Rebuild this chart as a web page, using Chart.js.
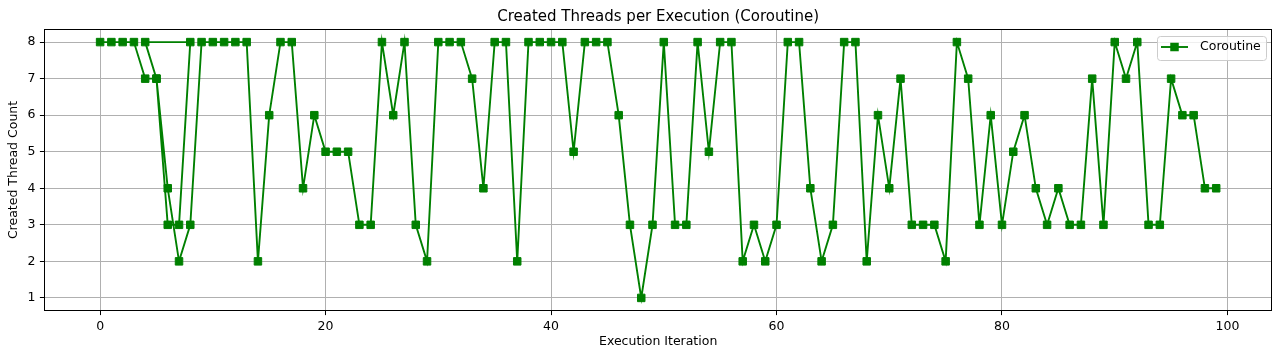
<!doctype html>
<html lang="en">
<head>
    <meta charset="UTF-8">
    <title>Created Threads per Execution (Coroutine)</title>
    <script src="https://cdn.jsdelivr.net/npm/chart.js"></script>
    <style>
        body { margin: 0; background: #fff; }
        #wrap { width: 1280px; height: 359px; }
    </style>
</head>
<body>
<div id="wrap"><canvas id="threadChart"></canvas></div>

<script>
    // x values as they appear in the log (iterations 4-8 show up twice)
    var iterations = [0, 1, 2, 3, 4, 5, 6, 7, 8,
        4, 5, 6, 7, 8, 9, 10, 11, 12, 13, 14, 15, 16, 17, 18, 19,
        20, 21, 22, 23, 24, 25, 26, 27, 28, 29, 30, 31, 32, 33, 34, 35, 36, 37, 38, 39,
        40, 41, 42, 43, 44, 45, 46, 47, 48, 49, 50, 51, 52, 53, 54, 55, 56, 57, 58, 59,
        60, 61, 62, 63, 64, 65, 66, 67, 68, 69, 70, 71, 72, 73, 74, 75, 76, 77, 78, 79,
        80, 81, 82, 83, 84, 85, 86, 87, 88, 89, 90, 91, 92, 93, 94, 95, 96, 97, 98, 99];

    var threadCounts = [8, 8, 8, 8, 7, 7, 3, 3, 8,
        8, 7, 4, 2, 3, 8, 8, 8, 8, 8, 2, 6, 8, 8, 4, 6,
        5, 5, 5, 3, 3, 8, 6, 8, 3, 2, 8, 8, 8, 7, 4, 8, 8, 2, 8, 8,
        8, 8, 5, 8, 8, 8, 6, 3, 1, 3, 8, 3, 3, 8, 5, 8, 8, 2, 3, 2,
        3, 8, 8, 4, 2, 3, 8, 8, 2, 6, 4, 7, 3, 3, 3, 2, 8, 7, 3, 6,
        3, 5, 6, 4, 3, 4, 3, 3, 7, 3, 8, 7, 8, 3, 3, 7, 6, 6, 4, 4];

    var xTicks = [0, 20, 40, 60, 80, 100];
    var yTicks = [1, 2, 3, 4, 5, 6, 7, 8];
    var seriesName = 'Coroutine';

    var points = iterations.map(function (x, i) {
        return {x: x, y: threadCounts[i]};
    });

    var FONT = 'DejaVu Sans';
    Chart.defaults.color = '#000';
    Chart.defaults.font.family = FONT;

    // matplotlib-like frame + legend inside the axes
    var framePlugin = {
        id: 'frame',
        afterDraw: function (chart) {
            var c = chart.ctx, a = chart.chartArea;
            c.save();
            c.strokeStyle = '#000';
            c.lineWidth = 1;
            c.strokeRect(Math.round(a.left) + 0.5, Math.round(a.top) + 0.5,
                Math.round(a.right - a.left) - 1, Math.round(a.bottom - a.top));

            // legend box
            var lx = 1157, ly = 36, lw = 109, lh = 24;
            c.beginPath();
            c.roundRect(lx + 0.5, ly + 0.5, lw, lh, 3);
            c.fillStyle = 'rgba(255,255,255,0.8)';
            c.fill();
            c.strokeStyle = '#cccccc';
            c.stroke();

            var my = ly + 11;
            c.strokeStyle = 'green';
            c.lineWidth = 1.9;
            c.beginPath();
            c.moveTo(lx + 4, my);
            c.lineTo(lx + 31, my);
            c.stroke();
            c.fillStyle = 'green';
            c.fillRect(lx + 17.5 - 4.25, my - 4.25, 8.5, 8.5);

            c.fillStyle = '#000';
            c.font = '12.5px "' + FONT + '"';
            c.textBaseline = 'middle';
            c.textAlign = 'left';
            c.fillText(seriesName, lx + 43, my);
            c.restore();
        }
    };

    var ctx = document.getElementById('threadChart');

    var myChart = new Chart(ctx, {
        type: 'scatter',
        data: {
            datasets: [{
                label: seriesName,
                data: points,
                showLine: true,
                borderColor: 'green',
                backgroundColor: 'green',
                borderWidth: 1.9,
                pointStyle: 'rect',
                pointRadius: 5.3,
                pointBorderWidth: 1,
                pointHoverRadius: 5.3
            }]
        },
        options: {
            responsive: true,
            maintainAspectRatio: false,
            animation: false,
            layout: {
                padding: {left: 0, top: 0, right: 8, bottom: 0}
            },
            plugins: {
                legend: {display: false},
                tooltip: {enabled: false},
                title: {
                    display: true,
                    fullSize: false,
                    text: 'Created Threads per Execution (Coroutine)',
                    color: '#000',
                    font: {size: 15, weight: 'normal'},
                    padding: {top: 8.5, bottom: 2.8}
                }
            },
            scales: {
                x: {
                    type: 'linear',
                    min: -4.95,
                    max: 103.95,
                    afterBuildTicks: function (scale) {
                        scale.ticks = xTicks.map(function (v) { return {value: v}; });
                    },
                    afterFit: function (scale) {
                        scale.height = 48.3;
                    },
                    grid: {
                        color: '#b0b0b0',
                        lineWidth: 1,
                        tickColor: '#000',
                        tickLength: 4.4,
                        tickWidth: 1
                    },
                    border: {display: false},
                    ticks: {
                        font: {size: 12.5},
                        padding: 4.4,
                        maxRotation: 0
                    },
                    title: {
                        display: true,
                        text: 'Execution Iteration',
                        font: {size: 12.5},
                        padding: {top: 0, bottom: 9.5}
                    }
                },
                y: {
                    min: 0.65,
                    max: 8.35,
                    afterBuildTicks: function (scale) {
                        scale.ticks = yTicks.map(function (v) { return {value: v}; });
                    },
                    afterFit: function (scale) {
                        scale.width = 44.3;
                    },
                    grid: {
                        color: '#b0b0b0',
                        lineWidth: 1,
                        tickColor: '#000',
                        tickLength: 4.4,
                        tickWidth: 1
                    },
                    border: {display: false},
                    ticks: {
                        font: {size: 12.5},
                        padding: 4.4
                    },
                    title: {
                        display: true,
                        text: 'Created Thread Count',
                        font: {size: 12.5},
                        padding: {top: 6.5, bottom: 0}
                    }
                }
            }
        },
        plugins: [framePlugin]
    });
</script>
</body>
</html>
